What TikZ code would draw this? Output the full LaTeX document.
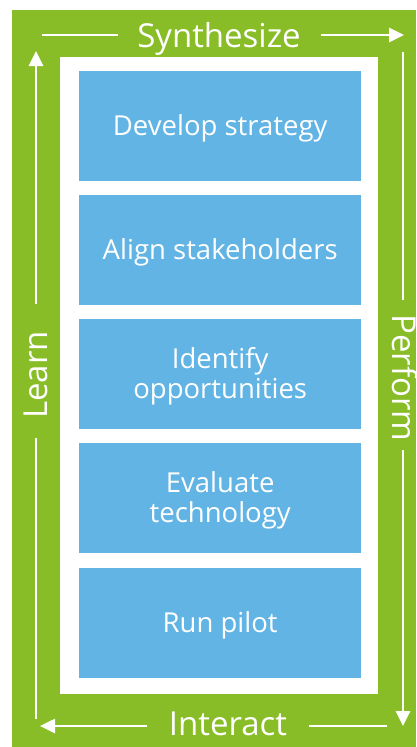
\documentclass[tikz,border=0pt]{standalone}
\usepackage{fontspec}
\setmainfont{Open Sans}
\usetikzlibrary{arrows.meta}
\definecolor{grn}{RGB}{137,189,39}
\definecolor{blu}{RGB}{98,180,228}
\begin{document}
\begin{tikzpicture}[x=1pt,y=-1pt,
  stepbox/.style={fill=blu,draw=none,minimum width=282pt,minimum height=110pt,anchor=north west,inner sep=0pt},
  boxtext/.style={text=white,font=\fontsize{27.5}{30}\selectfont,align=center,inner sep=0pt},
  lbl/.style={text=white,font=\fontsize{33}{36}\selectfont,inner sep=0pt,anchor=base},
  ln/.style={draw=white,line width=2.6pt},
  arr/.style={ln,-{Triangle[length=15pt,width=14pt]}}]
\useasboundingbox (0,0) rectangle (416,747);
\fill[grn] (12,10) rectangle (416,747);
\fill[white] (60,57) rectangle (378,694);
\node[stepbox] (b1) at (79,71) {};
\node[stepbox] (b2) at (79,195) {};
\node[stepbox] (b3) at (79,319) {};
\node[stepbox] (b4) at (79,443) {};
\node[stepbox] (b5) at (79,568) {};
\node[boxtext] (t1) at ([yshift=-2pt]b1.center) {Develop strategy};
\node[boxtext] (t2) at ([yshift=-2pt]b2.center) {Align stakeholders};
\node[boxtext] (t3) at ([yshift=-2pt]b3.center) {Identify\\opportunities};
\node[boxtext] (t4) at ([yshift=-2pt]b4.center) {Evaluate\\technology};
\node[boxtext] (t5) at ([yshift=-2pt]b5.center) {Run pilot};
\node[lbl] (syn) at (219,47) {Synthesize};
\node[lbl] (int) at (228,735) {Interact};
\node[lbl,rotate=90] (lrn) at (47,375) {Learn};
\node[lbl,rotate=-90] (prf) at (392,378) {Perform};
\coordinate (a1) at (42,35); \coordinate (a2) at (118,35);
\coordinate (a3) at (321,35); \coordinate (a4) at (404,35);
\coordinate (r1) at (403,52); \coordinate (r2) at (403,300);
\coordinate (r3) at (403,450); \coordinate (r4) at (403,726);
\coordinate (d1) at (387,726); \coordinate (d2) at (309,726);
\coordinate (d3) at (147,726); \coordinate (d4) at (40,726);
\coordinate (l1) at (36,719); \coordinate (l2) at (36,438);
\coordinate (l3) at (36,304); \coordinate (l4) at (36,51);
\draw[ln] (a1) -- (a2);
\draw[arr] (a3) -- (a4);
\draw[ln] (r1) -- (r2);
\draw[arr] (r3) -- (r4);
\draw[ln] (d1) -- (d2);
\draw[arr] (d3) -- (d4);
\draw[ln] (l1) -- (l2);
\draw[arr] (l3) -- (l4);
\end{tikzpicture}
\end{document}
